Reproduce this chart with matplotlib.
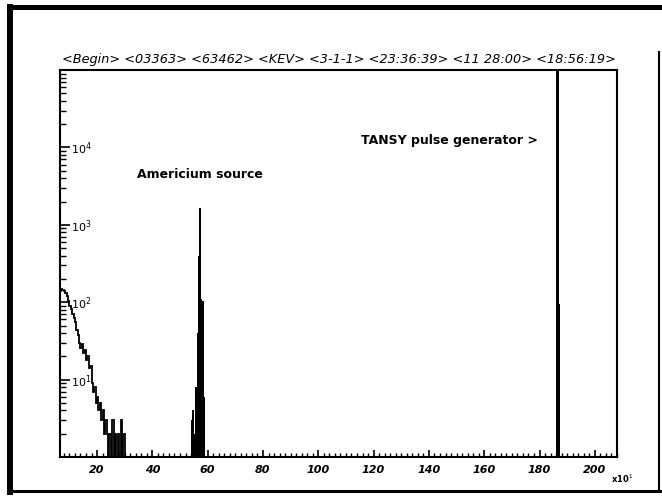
import numpy as np
import matplotlib
matplotlib.use("Agg")
import matplotlib.pyplot as plt
from matplotlib.lines import Line2D
from matplotlib.ticker import MultipleLocator, FixedLocator, NullFormatter, LogLocator

# spectrum, channel units x10^1, bins of 0.5
low_start = 6.5
low_counts = [140, 150, 145, 138, 132, 120, 105, 90, 82, 70, 62, 55, 44, 38,
              30, 26, 29, 22, 24, 18, 20, 14, 15, 9, 7, 8, 5, 6, 4, 5, 3, 4,
              2, 3, 2, 1, 2, 1, 3, 1, 2, 0, 2, 1, 3, 0, 2, 0]
am_start = 53.5
am_counts = [0, 3, 4, 2, 8, 40, 400, 1650, 110, 105, 6, 1, 0]
pulser_start = 185.5
pulser_counts = [0, 300000, 300000, 95, 0]
bin_width = 0.5

header = "<Begin> <03363> <63462> <KEV> <3-1-1> <23:36:39> <11 28:00> <18:56:19>"
x_ticks = [20, 40, 60, 80, 100, 120, 140, 160, 180, 200]
y_ticks = [10, 100, 1000, 10000]

fig = plt.figure(figsize=(6.62, 4.98), dpi=100)
ax = fig.add_axes([0.0906, 0.0823, 0.8414, 0.777])

for start, counts, filled, w in [(low_start, low_counts, False, 1.3),
                                 (am_start, am_counts, True, 1.0),
                                 (pulser_start, pulser_counts, True, 2.5)]:
    edges = start + bin_width * np.arange(len(counts) + 1)
    vals = np.clip(np.array(counts, dtype=float), 0.3, None)
    ax.stairs(vals, edges, baseline=0.3, color='black', lw=w, fill=filled)

ax.set_yscale('log')
ax.set_xlim(6.6, 208)
ax.set_ylim(1, 1e5)

ax.xaxis.set_major_locator(FixedLocator(x_ticks))
ax.xaxis.set_minor_locator(MultipleLocator(2))
ax.set_xticklabels([str(t) for t in x_ticks], fontsize=8, fontweight='bold', style='italic')
ax.tick_params(axis='x', which='major', direction='in', length=5, width=1.2, pad=6)
ax.tick_params(axis='x', which='minor', direction='in', length=3, width=1)

ax.yaxis.set_major_locator(FixedLocator(y_ticks))
ax.yaxis.set_minor_locator(LogLocator(base=10, subs=np.arange(2, 10)))
ax.yaxis.set_minor_formatter(NullFormatter())
ax.set_yticklabels(['$10^{%d}$' % int(np.log10(t)) for t in y_ticks], fontsize=8, fontweight='bold')
ax.tick_params(axis='y', which='major', direction='in', length=7, width=1.2, pad=-8)
ax.tick_params(axis='y', which='minor', direction='in', length=4, width=1)
for lab in ax.get_yticklabels():
    lab.set_horizontalalignment('left')

for s in ax.spines.values():
    s.set_linewidth(1.5)

ax.text(0.138, 0.729, "Americium source", transform=ax.transAxes,
        fontsize=9, fontweight='bold', va='center', ha='left')
ax.text(0.540, 0.819, "TANSY pulse generator >", transform=ax.transAxes,
        fontsize=9, fontweight='bold', va='center', ha='left')
ax.text(0.99, -0.04, "x10$^{1}$", transform=ax.transAxes,
        fontsize=6, fontweight='bold', va='top', ha='left')

fig.text(0.0937, 0.867, header, fontsize=9.25, style='italic', va='bottom', ha='left')

# outer frame of the scanned page
fig.add_artist(Line2D([0.0151, 0.0151], [0.012, 0.986], color='black', lw=4.3, transform=fig.transFigure))
fig.add_artist(Line2D([0.0151, 1.0], [0.986, 0.986], color='black', lw=3.6, transform=fig.transFigure))
fig.add_artist(Line2D([0.0151, 1.0], [0.014, 0.014], color='black', lw=2.2, transform=fig.transFigure))
fig.add_artist(Line2D([0.9955, 0.9955], [0.014, 0.896], color='black', lw=1.5, transform=fig.transFigure))

fig.savefig("out.png", dpi=100)
